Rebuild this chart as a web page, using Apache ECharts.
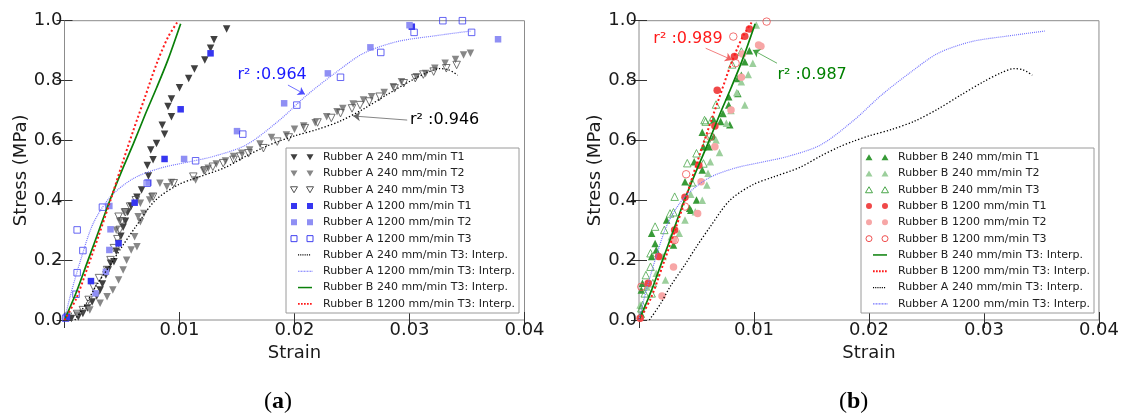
<!DOCTYPE html>
<html><head><meta charset="utf-8">
<script src="https://cdn.jsdelivr.net/npm/echarts/dist/echarts.min.js"></script>
<style>html,body{margin:0;padding:0;background:#fff}#c{width:1122px;height:414px}</style>
</head><body><div id="c"></div>
<script>
// ---------- axis ticks ----------
const xMin = 0, xMax = 0.04, xStep = 0.01;
const yMin = 0, yMax = 1.0, yStep = 0.2;

// ---------- Panel (a) data: [strain, stress MPa] ----------
const A240_T1 = [[0.0006,0.005],[0.0012,0.01],[0.0016,0.022],[0.0020,0.04],[0.0024,0.06],[0.0028,0.08],[0.0031,0.10],[0.0033,0.12],[0.0036,0.15],[0.0038,0.167],[0.0040,0.19],[0.0043,0.195],[0.0045,0.23],[0.0047,0.256],[0.0049,0.28],[0.0051,0.31],[0.0053,0.33],[0.0055,0.36],[0.0058,0.38],[0.0063,0.41],[0.0067,0.434],[0.0073,0.481],[0.0072,0.516],[0.0077,0.535],[0.0075,0.568],[0.0080,0.590],[0.0087,0.621],[0.0085,0.651],[0.0093,0.679],[0.0090,0.713],[0.0093,0.738],[0.0100,0.776],[0.0108,0.807],[0.0113,0.839],[0.0122,0.869],[0.0127,0.908],[0.0130,0.936],[0.0141,0.972]];
const A240_T2 = [[0.0011,0.017],[0.0022,0.033],[0.0031,0.056],[0.0037,0.078],[0.0042,0.10],[0.0047,0.134],[0.0051,0.167],[0.0054,0.20],[0.0058,0.234],[0.0063,0.245],[0.0061,0.278],[0.0045,0.30],[0.0048,0.33],[0.0066,0.328],[0.0064,0.345],[0.0052,0.36],[0.0069,0.356],[0.0066,0.39],[0.0074,0.401],[0.0076,0.412],[0.0083,0.457],[0.0089,0.445],[0.0093,0.459],[0.0114,0.468],[0.0121,0.499],[0.0125,0.507],[0.0132,0.521],[0.0140,0.531],[0.0147,0.546],[0.0154,0.557],[0.0161,0.568],[0.0170,0.588],[0.0180,0.610],[0.0193,0.618],[0.0200,0.637],[0.0208,0.648],[0.0218,0.659],[0.0228,0.679],[0.0237,0.696],[0.0242,0.707],[0.0251,0.722],[0.0260,0.735],[0.0267,0.746],[0.0278,0.760],[0.0286,0.779],[0.0293,0.796],[0.0306,0.813],[0.0314,0.824],[0.0322,0.841],[0.0331,0.858],[0.0340,0.870],[0.0347,0.885],[0.0353,0.891]];
const A240_T3 = [[0.0003,0.011],[0.0011,0.020],[0.0016,0.033],[0.0021,0.067],[0.0025,0.111],[0.0030,0.140],[0.0037,0.167],[0.0040,0.200],[0.0043,0.240],[0.0046,0.270],[0.0048,0.301],[0.0050,0.330],[0.0047,0.345],[0.0053,0.360],[0.0057,0.379],[0.0062,0.400],[0.0077,0.412],[0.0095,0.457],[0.0112,0.479],[0.0122,0.500],[0.0129,0.512],[0.0138,0.524],[0.0147,0.535],[0.0153,0.546],[0.0160,0.557],[0.0173,0.574],[0.0185,0.596],[0.0195,0.610],[0.0209,0.641],[0.0220,0.660],[0.0232,0.675],[0.0240,0.691],[0.0250,0.707],[0.0257,0.718],[0.0265,0.730],[0.0274,0.746],[0.0287,0.774],[0.0295,0.791],[0.0305,0.808],[0.0312,0.820],[0.0321,0.830],[0.0332,0.841],[0.0341,0.852]];
const A1200_T1 = [[0.0002,0.011],[0.0023,0.130],[0.0047,0.256],[0.0061,0.392],[0.0087,0.538],[0.0101,0.704],[0.0127,0.891],[0.0302,0.980]];
const A1200_T2 = [[0.0027,0.089],[0.0036,0.161],[0.0039,0.234],[0.0040,0.303],[0.0039,0.381],[0.0073,0.459],[0.0104,0.538],[0.0150,0.631],[0.0191,0.724],[0.0229,0.824],[0.0266,0.911],[0.0300,0.985],[0.0377,0.938]];
const A1200_T3 = [[0.0001,0.006],[0.0010,0.086],[0.0011,0.158],[0.0016,0.232],[0.0011,0.301],[0.0033,0.377],[0.0072,0.457],[0.0114,0.532],[0.0155,0.621],[0.0202,0.718],[0.0240,0.811],[0.0275,0.894],[0.0304,0.961],[0.0329,1.0],[0.0346,1.0],[0.0354,0.961]];

// ---------- Panel (b) data ----------
const B240_T1 = [[0.0002,0.020],[0.0002,0.100],[0.0003,0.123],[0.0011,0.212],[0.0014,0.256],[0.0011,0.290],[0.0015,0.234],[0.0024,0.334],[0.0030,0.251],[0.0040,0.462],[0.0044,0.373],[0.0045,0.367],[0.0050,0.401],[0.0048,0.529],[0.0055,0.501],[0.0055,0.627],[0.0056,0.579],[0.0061,0.579],[0.0065,0.612],[0.0065,0.668],[0.0071,0.663],[0.0073,0.690],[0.0078,0.718],[0.0078,0.746],[0.0079,0.652],[0.0086,0.757],[0.0086,0.807],[0.0089,0.818],[0.0092,0.863],[0.0096,0.900]];
const B240_T2 = [[0.0001,0.050],[0.0007,0.110],[0.0015,0.156],[0.0023,0.134],[0.0021,0.212],[0.0028,0.278],[0.0035,0.290],[0.0040,0.334],[0.0049,0.362],[0.0055,0.400],[0.0045,0.420],[0.0059,0.451],[0.0060,0.490],[0.0062,0.529],[0.0070,0.560],[0.0067,0.601],[0.0076,0.657],[0.0080,0.700],[0.0092,0.718],[0.0085,0.760],[0.0089,0.796],[0.0095,0.820],[0.0099,0.858],[0.0102,0.986]];
const B240_T3 = [[0.0002,0.039],[0.0003,0.050],[0.0011,0.089],[0.0005,0.089],[0.0012,0.123],[0.0006,0.150],[0.0010,0.178],[0.0010,0.223],[0.0014,0.312],[0.0022,0.301],[0.0027,0.356],[0.0030,0.360],[0.0031,0.412],[0.0042,0.524],[0.0046,0.460],[0.0050,0.557],[0.0056,0.523],[0.0057,0.668],[0.0058,0.663],[0.0059,0.607],[0.0063,0.668],[0.0067,0.720],[0.0081,0.854],[0.0089,0.897]];
const B1200_T1 = [[0.0001,0.006],[0.0008,0.123],[0.0017,0.212],[0.0031,0.301],[0.0040,0.410],[0.0052,0.517],[0.0066,0.648],[0.0068,0.768],[0.0083,0.880],[0.0092,0.948],[0.0096,0.972]];
const B1200_T2 = [[0.0020,0.080],[0.0030,0.177],[0.0030,0.267],[0.0051,0.356],[0.0054,0.462],[0.0066,0.579],[0.0080,0.702],[0.0089,0.811],[0.0090,0.889],[0.0104,0.919],[0.0106,0.915]];
const B1200_T3 = [[0.0002,0.111],[0.0031,0.267],[0.0040,0.379],[0.0041,0.487],[0.0062,0.612],[0.0084,0.858],[0.0082,0.947],[0.0111,0.997]];

// ---------- interpolation curves ----------
const A240_interp_x = [0.0009,0.0019,0.0027,0.0040,0.0050,0.0062,0.0079,0.0099,0.0117,0.0140,0.0158,0.0174,0.0187,0.0200,0.0220,0.0240,0.0260,0.0280,0.0300,0.0315,0.0326,0.0334,0.0342];
const A240_interp_y = [0.000,0.056,0.111,0.185,0.245,0.312,0.400,0.452,0.478,0.510,0.548,0.578,0.598,0.615,0.637,0.665,0.705,0.752,0.797,0.826,0.840,0.836,0.818];
const A1200_interp_x = [0.0000,0.0005,0.0014,0.0025,0.0040,0.0060,0.0083,0.0109,0.0129,0.0158,0.0187,0.0211,0.0237,0.0260,0.0289,0.0321,0.0354];
const A1200_interp_y = [0.000,0.080,0.200,0.323,0.412,0.473,0.507,0.529,0.546,0.585,0.668,0.752,0.830,0.891,0.930,0.949,0.966];
const B240_interp_x = [0.0000,0.0010,0.0020,0.0030,0.0040,0.0050,0.0060,0.0070,0.0080,0.0090,0.0101];
const B240_interp_y = [0.000,0.090,0.195,0.300,0.405,0.500,0.590,0.685,0.775,0.870,0.990];
const B1200_interp_x = [0.0000,0.0010,0.0020,0.0030,0.0040,0.0050,0.0060,0.0070,0.0080,0.0090,0.0099];
const B1200_interp_y = [0.000,0.070,0.175,0.285,0.400,0.520,0.635,0.745,0.855,0.945,1.000];

// ---------- annotations ----------
const annotA = [
  {text:'r² :0.964', at:[0.0150,0.8186], color:'#1a1aff', arrowFrom:[0.01943,0.785], arrowTo:[0.02091,0.754], arrowColor:'#4d4dff'},
  {text:'r² :0.946', at:[0.0300,0.668], color:'#000000', arrowFrom:[0.0298,0.668], arrowTo:[0.0251,0.6816], arrowColor:'#666666'}
];
const annotB = [
  {text:'r² :0.989', at:[0.0012,0.941], color:'#ff1a1a', arrowFrom:[0.0058,0.908], arrowTo:[0.0081,0.869], arrowColor:'#f06060'},
  {text:'r² :0.987', at:[0.0120,0.8186], color:'#008000', arrowFrom:[0.0120,0.858], arrowTo:[0.0099,0.902], arrowColor:'#40a040'}
];
const captions = ['a', 'b'];

// ---------- names ----------
const N = {
  a240t1:'Rubber A 240 mm/min T1', a240t2:'Rubber A 240 mm/min T2', a240t3:'Rubber A 240 mm/min T3',
  a1200t1:'Rubber A 1200 mm/min T1', a1200t2:'Rubber A 1200 mm/min T2', a1200t3:'Rubber A 1200 mm/min T3',
  b240t1:'Rubber B 240 mm/min T1', b240t2:'Rubber B 240 mm/min T2', b240t3:'Rubber B 240 mm/min T3',
  b1200t1:'Rubber B 1200 mm/min T1', b1200t2:'Rubber B 1200 mm/min T2', b1200t3:'Rubber B 1200 mm/min T3',
  a240i:'Rubber A 240 mm/min T3: Interp.', a1200i:'Rubber A 1200 mm/min T3: Interp.',
  b240i:'Rubber B 240 mm/min T3: Interp.', b1200i:'Rubber B 1200 mm/min T3: Interp.'
};

// ---------- legend icons (28x8 box) ----------
const BOX = 'M0,0 M28,8 ';
const ICON_DOWN = 'path://' + BOX + 'M0.5,1 L7.5,1 L4,7 Z M16.5,1 L23.5,1 L20,7 Z';
const ICON_UP = 'path://' + BOX + 'M0.5,7 L7.5,7 L4,1 Z M16.5,7 L23.5,7 L20,1 Z';
const ICON_SQ = 'path://' + BOX + 'M1,1 L7,1 L7,7 L1,7 Z M17,1 L23,1 L23,7 L17,7 Z';
const ICON_CIR = 'path://' + BOX + 'M1,4 A3,3 0 1,0 7,4 A3,3 0 1,0 1,4 Z M17,4 A3,3 0 1,0 23,4 A3,3 0 1,0 17,4 Z';
const ICON_SOLID = 'path://' + BOX + 'M8,3.25 L22,3.25 L22,4.75 L8,4.75 Z';
function dotIcon(x0, x1, step, w, h) {
  let p = BOX;
  for (let x = x0; x <= x1 + 1e-6; x += step) {
    const y0 = 4 - h / 2, y1 = 4 + h / 2;
    p += `M${x},${y0} L${x + w},${y0} L${x + w},${y1} L${x},${y1} Z `;
  }
  return 'path://' + p;
}
const ICON_DOT_BLACK = dotIcon(8, 21, 2.2, 1.1, 1.2);
const ICON_DOT_BLUE = dotIcon(8, 21.5, 1.5, 1, 1.1);
const ICON_DOT_RED = dotIcon(8, 21, 3, 1.7, 1.8);

const OPEN = 'rgba(0,0,0,0)';
const STY = {};
STY[N.a240t1] = {symbol:'triangle', rot:180, fill:'#404040', edge:null, icon:ICON_DOWN};
STY[N.a240t2] = {symbol:'triangle', rot:180, fill:'#878787', edge:null, icon:ICON_DOWN};
STY[N.a240t3] = {symbol:'triangle', rot:180, fill:OPEN, edge:'#505050', icon:ICON_DOWN};
STY[N.a1200t1] = {symbol:'rect', rot:0, fill:'#3636f0', edge:null, icon:ICON_SQ};
STY[N.a1200t2] = {symbol:'rect', rot:0, fill:'#8f8ff4', edge:null, icon:ICON_SQ};
STY[N.a1200t3] = {symbol:'rect', rot:0, fill:OPEN, edge:'#4040f0', icon:ICON_SQ};
STY[N.b240t1] = {symbol:'triangle', rot:0, fill:'#379a37', edge:null, icon:ICON_UP};
STY[N.b240t2] = {symbol:'triangle', rot:0, fill:'#9ccf9c', edge:null, icon:ICON_UP};
STY[N.b240t3] = {symbol:'triangle', rot:0, fill:OPEN, edge:'#4aa64a', icon:ICON_UP};
STY[N.b1200t1] = {symbol:'circle', rot:0, fill:'#f04848', edge:null, icon:ICON_CIR};
STY[N.b1200t2] = {symbol:'circle', rot:0, fill:'#f7a6a6', edge:null, icon:ICON_CIR};
STY[N.b1200t3] = {symbol:'circle', rot:0, fill:OPEN, edge:'#f05050', icon:ICON_CIR};
STY[N.a240i] = {line:true, color:'#000000', width:1.3, type:[1.3,2], icon:ICON_DOT_BLACK};
STY[N.a1200i] = {line:true, color:'#7676ff', width:1.2, type:[1,1], icon:ICON_DOT_BLUE};
STY[N.b240i] = {line:true, color:'#0a800a', width:1.7, type:'solid', icon:ICON_SOLID};
STY[N.b1200i] = {line:true, color:'#ff1a1a', width:2, type:[2,2.4], icon:ICON_DOT_RED};

function zip(xs, ys) { return xs.map((x, i) => [x, ys[i]]); }

function scatterSeries(name, data, g) {
  const s = STY[name];
  return {
    type:'scatter', name, data, xAxisIndex: g*2, yAxisIndex: g*2,
    symbol: s.symbol, symbolRotate: s.rot, symbolSize: s.symbol === 'rect' ? 6.5 : 7.5,
    itemStyle: s.edge ? {color: s.fill, borderColor: s.edge, borderWidth: 1} : {color: s.fill, opacity: 1},
    emphasis: {disabled: true}, silent: true, animation: false, z: 2
  };
}
function lineSeries(name, data, g) {
  const s = STY[name];
  return {
    type:'line', name, data, xAxisIndex: g*2, yAxisIndex: g*2,
    symbol:'none', showSymbol:false, smooth:0.3,
    lineStyle:{color:s.color, width:s.width, type:s.type},
    itemStyle:{color:s.color},
    emphasis:{disabled:true}, silent:true, animation:false, z:3
  };
}
function annotSeries(list, g) {
  return {
    type:'scatter', name:'__annot' + g, data:[], xAxisIndex:g*2, yAxisIndex:g*2, silent:true, animation:false, z:5,
    markPoint:{
      symbol:'circle', symbolSize:1, silent:true, animation:false,
      itemStyle:{color:'rgba(0,0,0,0)'},
      data:list.map(a => ({coord:a.at, value:0, label:{show:true, position:'right', distance:0, formatter:a.text, color:a.color, fontSize:16, fontFamily:'DejaVu Sans'}}))
    },
    markLine:{
      silent:true, animation:false, symbol:['none','arrow'], symbolSize:7,
      label:{show:false},
      data:list.map(a => [{coord:a.arrowFrom, lineStyle:{color:a.arrowColor, width:0.8, type:'solid'}, itemStyle:{color:a.arrowColor}}, {coord:a.arrowTo}])
    }
  };
}

const FONT = 'DejaVu Sans';
const TXT = '#1a1a1a';
function xAxes(g) {
  const base = {type:'value', gridIndex:g, min:xMin, max:xMax, interval:xStep, splitLine:{show:false},
    axisLine:{show:false}, axisTick:{show:true, inside:true, length:8, lineStyle:{color:'#333', width:1}}};
  return [
    Object.assign({}, base, {position:'bottom',
      axisLabel:{showMinLabel:false, margin:1, fontSize:18, fontFamily:FONT, color:TXT, formatter:v => v.toFixed(2)},
      name:'Strain', nameLocation:'middle', nameGap:18, nameTextStyle:{fontSize:18, fontFamily:FONT, color:TXT}}),
    Object.assign({}, base, {position:'top', axisLabel:{show:false}})
  ];
}
function yAxes(g) {
  const base = {type:'value', gridIndex:g, min:yMin, max:yMax, interval:yStep, splitLine:{show:false},
    axisLine:{show:false}, axisTick:{show:true, inside:true, length:8, lineStyle:{color:'#333', width:1}}};
  return [
    Object.assign({}, base, {position:'left',
      axisLabel:{margin:2, fontSize:18, fontFamily:FONT, color:TXT, formatter:v => v.toFixed(1)},
      name:'Stress (MPa)', nameLocation:'middle', nameGap:24, nameTextStyle:{fontSize:18, fontFamily:FONT, color:TXT}}),
    Object.assign({}, base, {position:'right', axisLabel:{show:false}})
  ];
}
function legendFor(names, left) {
  return {
    orient:'vertical', left, top:148, itemWidth:28, itemHeight:8, itemGap:0,
    padding:[1,4,1,3.5], backgroundColor:'#ffffff', borderColor:'#9a9a9a', borderWidth:1, borderRadius:0,
    selectedMode:false, symbolKeepAspect:true,
    textStyle:{fontSize:11, fontFamily:FONT, color:'#222', lineHeight:16.3},
    data:names.map(n => {
      const s = STY[n];
      let itemStyle;
      if (s.line) itemStyle = {color:s.color, borderWidth:0, opacity:1};
      else if (s.edge) itemStyle = {color:OPEN, borderColor:s.edge, borderWidth:1, opacity:1};
      else itemStyle = {color:s.fill, borderWidth:0, opacity:1};
      return {name:n, icon:s.icon, itemStyle};
    })
  };
}

const legendA = [N.a240t1,N.a240t2,N.a240t3,N.a1200t1,N.a1200t2,N.a1200t3,N.a240i,N.a1200i,N.b240i,N.b1200i];
const legendB = [N.b240t1,N.b240t2,N.b240t3,N.b1200t1,N.b1200t2,N.b1200t3,N.b240i,N.b1200i,N.a240i,N.a1200i];

const series = [
  scatterSeries(N.a240t1, A240_T1, 0), scatterSeries(N.a240t2, A240_T2, 0), scatterSeries(N.a240t3, A240_T3, 0),
  scatterSeries(N.a1200t1, A1200_T1, 0), scatterSeries(N.a1200t2, A1200_T2, 0), scatterSeries(N.a1200t3, A1200_T3, 0),
  lineSeries(N.a240i, zip(A240_interp_x, A240_interp_y), 0),
  lineSeries(N.a1200i, zip(A1200_interp_x, A1200_interp_y), 0),
  lineSeries(N.b240i, zip(B240_interp_x, B240_interp_y), 0),
  lineSeries(N.b1200i, zip(B1200_interp_x, B1200_interp_y), 0),
  annotSeries(annotA, 0),
  scatterSeries(N.b240t1, B240_T1, 1), scatterSeries(N.b240t2, B240_T2, 1), scatterSeries(N.b240t3, B240_T3, 1),
  scatterSeries(N.b1200t1, B1200_T1, 1), scatterSeries(N.b1200t2, B1200_T2, 1), scatterSeries(N.b1200t3, B1200_T3, 1),
  lineSeries(N.b240i, zip(B240_interp_x, B240_interp_y), 1),
  lineSeries(N.b1200i, zip(B1200_interp_x, B1200_interp_y), 1),
  lineSeries(N.a240i, zip(A240_interp_x, A240_interp_y), 1),
  lineSeries(N.a1200i, zip(A1200_interp_x, A1200_interp_y), 1),
  annotSeries(annotB, 1)
];

const capRich = {b:{fontWeight:'bold', fontSize:24, fontFamily:'Liberation Serif', fill:'#000'}};
const chart = echarts.init(document.getElementById('c'), null, {renderer:'canvas'});
chart.setOption({
  animation:false,
  backgroundColor:'#ffffff',
  grid:[
    {left:64.5, top:20.7, width:460, height:299.3, show:true, borderColor:'#8c8c8c', borderWidth:1, backgroundColor:'transparent'},
    {left:639, top:20.7, width:460, height:299.3, show:true, borderColor:'#8c8c8c', borderWidth:1, backgroundColor:'transparent'}
  ],
  xAxis:[...xAxes(0), ...xAxes(1)],
  yAxis:[...yAxes(0), ...yAxes(1)],
  legend:[legendFor(legendA, 286), legendFor(legendB, 861)],
  series,
  graphic:[
    {type:'text', left:264, top:390, style:{text:'({b|' + captions[0] + '})', font:'24px "Liberation Serif"', fill:'#000', rich:capRich}},
    {type:'text', left:839, top:390, style:{text:'({b|' + captions[1] + '})', font:'24px "Liberation Serif"', fill:'#000', rich:capRich}}
  ]
});
</script>
</body></html>
